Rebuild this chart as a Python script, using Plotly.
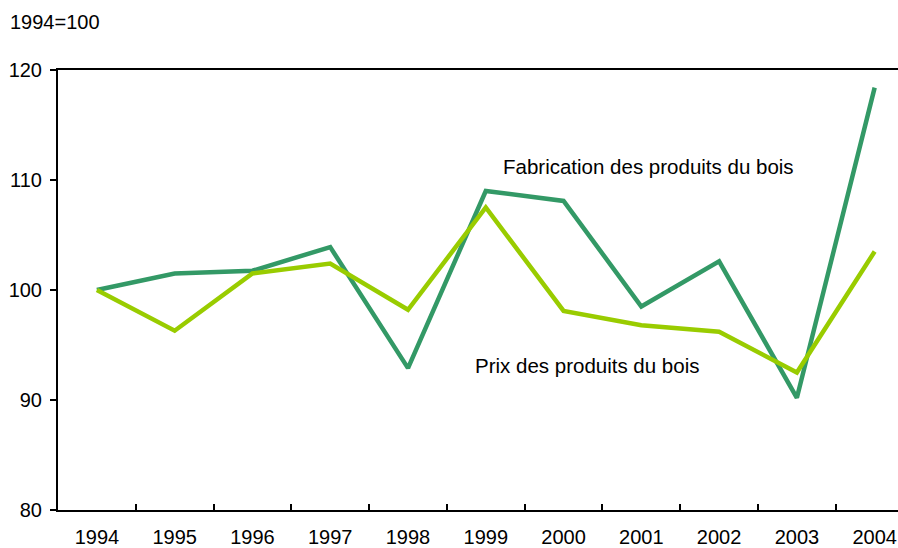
import plotly.graph_objects as go

years = ["1994", "1995", "1996", "1997", "1998", "1999", "2000", "2001", "2002", "2003", "2004"]
fabrication = [100.0, 101.5, 101.75, 103.9, 92.9, 109.0, 108.1, 98.5, 102.6, 90.2, 118.4]
prix = [100.0, 96.3, 101.5, 102.4, 98.2, 107.5, 98.1, 96.8, 96.2, 92.5, 103.5]
y_ticks = [80, 90, 100, 110, 120]

W, H = 898, 548
L, R, T, B = 58, 0, 70, 38
pw, ph = W - L - R, H - T - B

def px(x):
    return (x - L) / pw

def py(y):
    return (H - B - y) / ph

FONT = "Liberation Sans, Arial, sans-serif"

fig = go.Figure()
fig.add_trace(go.Scatter(x=years, y=fabrication, mode="lines",
                         line=dict(color="#339966", width=4.5), name="Fabrication des produits du bois"))
fig.add_trace(go.Scatter(x=years, y=prix, mode="lines",
                         line=dict(color="#99CC00", width=4.5), name="Prix des produits du bois"))

fig.update_layout(
    width=W, height=H,
    margin=dict(l=L, r=R, t=T, b=B, autoexpand=False),
    paper_bgcolor="white", plot_bgcolor="white",
    showlegend=False,
    font=dict(family=FONT, size=20, color="black"),
    xaxis=dict(type="category", range=[-0.5, 10.3], showgrid=False,
               showline=True, linecolor="black", linewidth=2, mirror=True,
               ticks="inside", tickson="boundaries", ticklen=6, tickcolor="black", tickwidth=1.5,
               ticklabelstandoff=8, automargin=False, zeroline=False),
    yaxis=dict(range=[80, 120], tickvals=y_ticks, showgrid=False,
               showline=True, linecolor="black", linewidth=2,
               ticks="outside", ticklen=6, tickcolor="black", tickwidth=1.5,
               ticklabelstandoff=4, automargin=False, zeroline=False),
    annotations=[
        dict(text="1994=100", xref="paper", yref="paper", x=px(8), y=py(22),
             xanchor="left", yanchor="middle", showarrow=False),
        dict(text="Fabrication des produits du bois", xref="paper", yref="paper",
             x=px(648.5), y=py(166), xanchor="center", yanchor="middle", showarrow=False,
             font=dict(size=20.5)),
        dict(text="Prix des produits du bois", xref="paper", yref="paper",
             x=px(586.5), y=py(365), xanchor="center", yanchor="middle", showarrow=False,
             font=dict(size=20.5)),
    ],
)

fig.write_html(
    "out.html",
    config={"displayModeBar": False},
    post_script="document.body.style.margin='0';document.documentElement.style.overflow='hidden';document.body.style.overflow='hidden';",
)
